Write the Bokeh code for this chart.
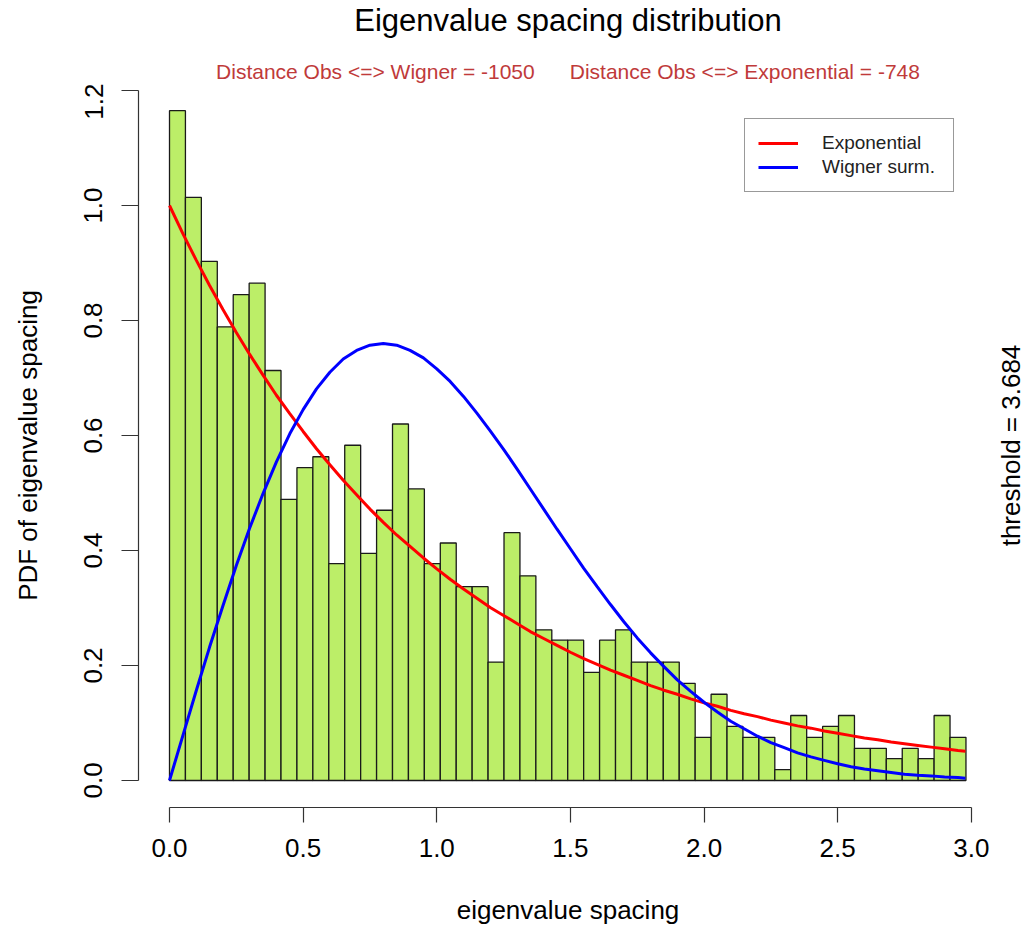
import math
from bokeh.plotting import figure
from bokeh.layouts import column, row
from bokeh.models import (Range1d, FixedTicker, PrintfTickFormatter, Legend, LegendItem,
                          ColumnDataSource, Label)
from bokeh.embed import file_html
from bokeh.resources import INLINE

# ---------------- data ----------------
title_text = "Eigenvalue spacing distribution"
subtitle_text = "Distance Obs <=> Wigner = -1050" + "\u00a0" * 6 + "Distance Obs <=> Exponential = -748"
threshold_text = "threshold = 3.684"
x_label = "eigenvalue spacing"
y_label = "PDF of eigenvalue spacing"

bin_start = 0.0
bin_width = 0.0596
density = [1.165, 1.014, 0.903, 0.789, 0.845, 0.865, 0.713, 0.489, 0.544, 0.563,
           0.377, 0.583, 0.395, 0.470, 0.620, 0.507, 0.377, 0.413, 0.337, 0.337,
           0.206, 0.431, 0.356, 0.262, 0.244, 0.244, 0.188, 0.244, 0.262, 0.206,
           0.206, 0.206, 0.169, 0.075, 0.150, 0.094, 0.075, 0.075, 0.019, 0.113,
           0.075, 0.094, 0.113, 0.056, 0.056, 0.038, 0.056, 0.038, 0.113, 0.075]

curve_s = [0.00, 0.05, 0.10, 0.15, 0.20, 0.25, 0.30, 0.35, 0.40, 0.45, 0.50, 0.55,
           0.60, 0.65, 0.70, 0.75, 0.80, 0.85, 0.90, 0.95, 1.00, 1.05, 1.10, 1.15,
           1.20, 1.25, 1.30, 1.35, 1.40, 1.45, 1.50, 1.55, 1.60, 1.65, 1.70, 1.75,
           1.80, 1.85, 1.90, 1.95, 2.00, 2.05, 2.10, 2.15, 2.20, 2.25, 2.30, 2.35,
           2.40, 2.45, 2.50, 2.55, 2.60, 2.65, 2.70, 2.75, 2.80, 2.85, 2.90, 2.95, 2.978]
exponential_pdf = [1.000, 0.951, 0.905, 0.861, 0.819, 0.779, 0.741, 0.705, 0.670, 0.638,
                   0.607, 0.577, 0.549, 0.522, 0.497, 0.472, 0.449, 0.427, 0.407, 0.387,
                   0.368, 0.350, 0.333, 0.317, 0.301, 0.287, 0.273, 0.259, 0.247, 0.235,
                   0.223, 0.212, 0.202, 0.192, 0.183, 0.174, 0.165, 0.157, 0.150, 0.142,
                   0.135, 0.129, 0.122, 0.116, 0.111, 0.105, 0.100, 0.095, 0.091, 0.086,
                   0.082, 0.078, 0.074, 0.071, 0.067, 0.064, 0.061, 0.058, 0.055, 0.052, 0.051]
wigner_pdf = [0.000, 0.078, 0.156, 0.232, 0.304, 0.374, 0.439, 0.499, 0.554, 0.603,
              0.645, 0.681, 0.710, 0.733, 0.748, 0.757, 0.760, 0.757, 0.748, 0.735,
              0.716, 0.694, 0.668, 0.639, 0.608, 0.576, 0.542, 0.507, 0.472, 0.437,
              0.403, 0.369, 0.337, 0.306, 0.276, 0.248, 0.222, 0.198, 0.175, 0.155,
              0.136, 0.119, 0.103, 0.090, 0.077, 0.066, 0.057, 0.048, 0.041, 0.035,
              0.029, 0.024, 0.020, 0.017, 0.014, 0.011, 0.009, 0.008, 0.006, 0.005, 0.004]

x_ticks = [0.0, 0.5, 1.0, 1.5, 2.0, 2.5, 3.0]
y_ticks = [0.0, 0.2, 0.4, 0.6, 0.8, 1.0, 1.2]

FONT = "Liberation Sans"
W, H = 1025, 927
TOP_H, RIGHT_W = 83, 28


def bare_panel(width, height, y_range=None):
    f = figure(width=width, height=height, output_backend="svg", toolbar_location=None,
               x_range=Range1d(0, width), y_range=y_range if y_range is not None else Range1d(0, height),
               x_axis_location=None, y_axis_location=None, min_border=0)
    f.outline_line_color = None
    f.xgrid.visible = False
    f.ygrid.visible = False
    f.background_fill_color = "white"
    f.border_fill_color = "white"
    return f


# ---------------- title strip ----------------
p_top = bare_panel(W, TOP_H)
p_top.add_layout(Label(x=567.5, y=TOP_H - 20, text=title_text, text_font=FONT, text_font_size="31px",
                       text_align="center", text_baseline="middle", text_color="black"))
p_top.add_layout(Label(x=567.5, y=TOP_H - 71, text=subtitle_text, text_font=FONT, text_font_size="21px",
                       text_align="center", text_baseline="middle", text_color="#C03A3A"))

# ---------------- main plot ----------------
yr = Range1d(-0.047, 1.2122)
p = figure(width=W - RIGHT_W, height=H - TOP_H, output_backend="svg", toolbar_location=None,
           x_range=Range1d(-0.116, 3.098), y_range=yr,
           min_border_left=138, min_border_right=0, min_border_top=0, min_border_bottom=120)
p.title = None
p.outline_line_color = None
p.xgrid.visible = False
p.ygrid.visible = False
p.background_fill_color = "white"
p.border_fill_color = "white"

lefts = [bin_start + i * bin_width for i in range(len(density))]
rights = [l + bin_width for l in lefts]
bars = ColumnDataSource(dict(left=lefts, right=rights, top=density, bottom=[0.0] * len(density)))
p.quad(left="left", right="right", top="top", bottom="bottom", source=bars,
       fill_color="#BCEE68", line_color="#1a1a1a", line_width=1.3)

r_exp = p.line(curve_s, exponential_pdf, line_color="#FF0000", line_width=3)
r_wig = p.line(curve_s, wigner_pdf, line_color="#0000FF", line_width=3)

for ax, ticks, bnd in ((p.xaxis[0], x_ticks, (0, 3)), (p.yaxis[0], y_ticks, (0, 1.2))):
    ax.ticker = FixedTicker(ticks=ticks)
    ax.formatter = PrintfTickFormatter(format="%.1f")
    ax.bounds = bnd
    ax.axis_line_color = "#333333"
    ax.axis_line_width = 1.2
    ax.major_tick_line_color = "#333333"
    ax.major_tick_line_width = 1.2
    ax.major_tick_in = 0
    ax.major_tick_out = 15
    ax.minor_tick_in = 0
    ax.minor_tick_out = 0
    ax.major_label_text_font = FONT
    ax.major_label_text_font_size = "26px"
    ax.major_label_text_color = "black"
    ax.axis_label_text_font = FONT
    ax.axis_label_text_font_size = "26px"
    ax.axis_label_text_font_style = "normal"
    ax.axis_label_text_color = "black"

p.xaxis[0].axis_label = x_label
p.xaxis[0].major_label_standoff = 16
p.xaxis[0].axis_label_standoff = 35
p.yaxis[0].axis_label = y_label
p.yaxis[0].major_tick_out = 17
p.yaxis[0].major_label_orientation = "vertical"
p.yaxis[0].major_label_standoff = 19
p.yaxis[0].axis_label_standoff = 39

legend = Legend(items=[LegendItem(label="Exponential", renderers=[r_exp]),
                       LegendItem(label="Wigner surm.", renderers=[r_wig])],
                location=(606, 615), margin=0, padding=13, spacing=2,
                glyph_width=40, glyph_height=18, label_height=18, label_standoff=24,
                label_width=118,
                label_text_font=FONT, label_text_font_size="19px", label_text_color="#222222",
                border_line_color="#333333", border_line_width=1.2,
                background_fill_color="white", background_fill_alpha=1.0)
p.add_layout(legend, "center")

# ---------------- right margin text (mtext on side 4, centred on the plot region) ----------------
p_right = bare_panel(RIGHT_W, H - TOP_H, y_range=yr)
p_right.add_layout(Label(x=13, y=(yr.start + yr.end) / 2, text=threshold_text, text_font=FONT,
                         text_font_size="26px", text_align="center", text_baseline="middle",
                         angle=math.pi / 2, text_color="black"))

layout = column(p_top, row(p, p_right, spacing=0), spacing=0)
open("out.html", "w").write(file_html(layout, INLINE))
